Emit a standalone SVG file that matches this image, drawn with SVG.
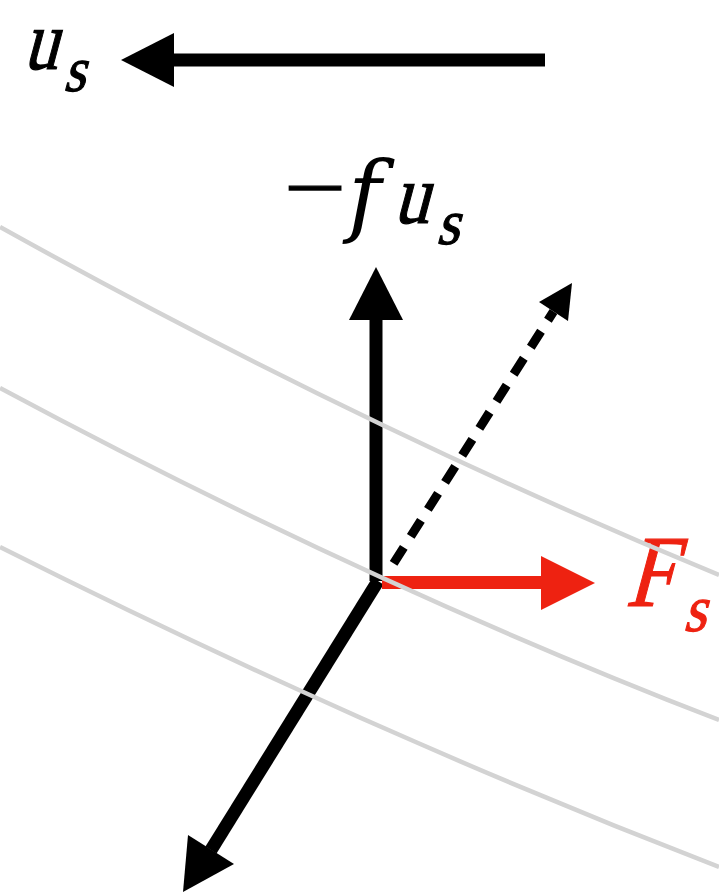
<svg xmlns="http://www.w3.org/2000/svg" width="719" height="893" viewBox="0 0 719 893">
  <style>
    .shaft { stroke: #000; stroke-width: 13; fill: none; stroke-linecap: butt; }
    .head { fill: #000; stroke: none; }
    .red-shaft { stroke: #ee2211; stroke-width: 13; fill: none; }
    .red-head { fill: #ee2211; }
    .dash { stroke: #000; stroke-width: 9; fill: none; stroke-dasharray: 19 13; }
    .contour { stroke: #d3d3d3; stroke-width: 4.5; fill: none; }
    .m { font-family: "Liberation Serif", "Times New Roman", serif; font-style: normal; fill: #000; stroke: #000; stroke-width: 1.2; }
    .fi { font-family: "DejaVu Serif", serif; font-style: italic; fill: #000; }
    .red { fill: #ee2211; stroke: #ee2211; }
  </style>
  <rect width="719" height="893" fill="#fff"/>

  <g id="connectors">
    <g id="arrow-us">
      <line class="shaft" x1="545" y1="60" x2="172" y2="60"/>
      <polygon class="head" points="121,60 174,33 174,87"/>
    </g>
    <g id="arrow-fus">
      <line class="shaft" x1="376" y1="581" x2="376" y2="318"/>
      <polygon class="head" points="376,267 349,320 403,320"/>
    </g>
    <g id="arrow-dashed">
      <line class="dash" x1="393.6" y1="563.4" x2="553.5" y2="311.5"/>
      <polygon class="head" points="572,283 539,302 568,321"/>
    </g>
    <g id="arrow-down">
      <line class="shaft" x1="378" y1="581" x2="211" y2="850"/>
      <polygon class="head" points="183,892 188,835 234,864"/>
    </g>
    <g id="arrow-Fs">
      <line class="red-shaft" x1="382" y1="582.5" x2="543" y2="582.5"/>
      <polygon class="red-head" points="595,583 541,556 541,610"/>
    </g>
  </g>

  <g id="label-us">
    <text class="m" transform="translate(23,69) skewX(-15) scale(0.82,1)" font-size="84">u</text>
    <text class="m" transform="translate(63,91) skewX(-15) scale(0.88,1)" font-size="64">s</text>
  </g>
  <g id="label-fus">
    <text class="m" x="284" y="214" font-size="78" textLength="62" lengthAdjust="spacingAndGlyphs">−</text>
    <text class="fi" x="348" y="225" font-size="90">f</text>
    <text class="m" transform="translate(393,223) skewX(-15) scale(0.85,1)" font-size="84">u</text>
    <text class="m" transform="translate(436,244) skewX(-15) scale(0.92,1)" font-size="64">s</text>
  </g>
  <g id="label-Fs">
    <text class="m red" transform="translate(625,606) skewX(-15) scale(0.85,1)" font-size="102">F</text>
    <text class="m red" transform="translate(683,631) skewX(-15) scale(0.88,1)" font-size="66">s</text>
  </g>

  <g id="contours">
    <path class="contour" d="M0,227 Q360,427 719,575"/>
    <path class="contour" d="M0,388 Q360,581 719,720"/>
    <path class="contour" d="M0,547 Q360,728 719,867"/>
  </g>
</svg>
